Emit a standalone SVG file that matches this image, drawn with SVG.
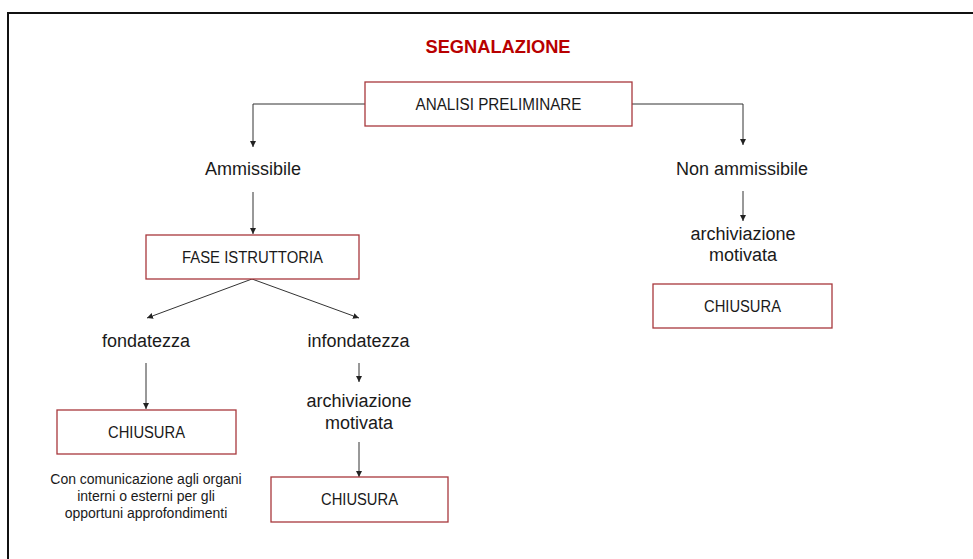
<svg xmlns="http://www.w3.org/2000/svg" width="973" height="559" viewBox="0 0 973 559">
  <defs>
    <marker id="arr" markerUnits="userSpaceOnUse" markerWidth="7" markerHeight="7" refX="6" refY="3" orient="auto">
      <path d="M0,0 L6,3 L0,6 z" fill="#222"/>
    </marker>
  </defs>
  <style>
    .box { fill: #fff; stroke: #a8383c; stroke-width: 1.3; }
    .t { font-family: "Liberation Sans", Arial, sans-serif; fill: #1a1a1a; text-anchor: middle; }
    .bt { font-size: 16px; }
    .lt { font-size: 18px; }
    .st { font-size: 14px; }
    .conn line, .conn path { stroke: #333; stroke-width: 1; fill: none; marker-end: url(#arr); }
  </style>
  <rect x="0" y="0" width="973" height="559" fill="#fff"/>
  <path d="M8,559 V13 H973" fill="none" stroke="#111" stroke-width="2"/>
  <g id="title">
    <text x="498" y="53" class="t" style="font-size:19px;font-weight:bold;fill:#b80000" textLength="145" lengthAdjust="spacingAndGlyphs">SEGNALAZIONE</text>
  </g>
  <g class="conn" id="connectors">
    <path d="M365,104 H253 V147"/>
    <path d="M632,104 H743 V145"/>
    <line x1="253" y1="192" x2="253" y2="234"/>
    <line x1="252" y1="279" x2="147" y2="318"/>
    <line x1="252" y1="279" x2="359" y2="318"/>
    <line x1="146" y1="363" x2="146" y2="409"/>
    <line x1="359" y1="363" x2="359" y2="382"/>
    <line x1="359" y1="442" x2="359" y2="477"/>
    <line x1="743" y1="191" x2="743" y2="221"/>
  </g>
  <g id="analisi">
    <rect class="box" x="365" y="82" width="267" height="44"/>
    <text class="t bt" x="498.5" y="110" textLength="166" lengthAdjust="spacingAndGlyphs">ANALISI PRELIMINARE</text>
  </g>
  <g id="ammissibile">
    <text class="t lt" x="253" y="175">Ammissibile</text>
  </g>
  <g id="non-ammissibile">
    <text class="t lt" x="742" y="175">Non ammissibile</text>
  </g>
  <g id="fase">
    <rect class="box" x="146" y="235" width="213" height="44"/>
    <text class="t bt" x="252.5" y="263" textLength="141" lengthAdjust="spacingAndGlyphs">FASE ISTRUTTORIA</text>
  </g>
  <g id="archiviazione-right">
    <text class="t lt" x="743" y="240">archiviazione</text>
    <text class="t lt" x="743" y="261">motivata</text>
  </g>
  <g id="chiusura-right">
    <rect class="box" x="653" y="284" width="179" height="44"/>
    <text class="t bt" x="742.5" y="312" textLength="77" lengthAdjust="spacingAndGlyphs">CHIUSURA</text>
  </g>
  <g id="fondatezza">
    <text class="t lt" x="146" y="347">fondatezza</text>
  </g>
  <g id="infondatezza">
    <text class="t lt" x="358.5" y="347">infondatezza</text>
  </g>
  <g id="archiviazione-mid">
    <text class="t lt" x="359" y="407">archiviazione</text>
    <text class="t lt" x="359" y="429">motivata</text>
  </g>
  <g id="chiusura-left">
    <rect class="box" x="57" y="410" width="179" height="44"/>
    <text class="t bt" x="146.5" y="438" textLength="77" lengthAdjust="spacingAndGlyphs">CHIUSURA</text>
  </g>
  <g id="note">
    <text class="t st" x="146" y="484">Con comunicazione agli organi</text>
    <text class="t st" x="146" y="501">interni o esterni per gli</text>
    <text class="t st" x="146" y="518">opportuni approfondimenti</text>
  </g>
  <g id="chiusura-mid">
    <rect class="box" x="271" y="477" width="177" height="45"/>
    <text class="t bt" x="359.5" y="505" textLength="77" lengthAdjust="spacingAndGlyphs">CHIUSURA</text>
  </g>
</svg>
